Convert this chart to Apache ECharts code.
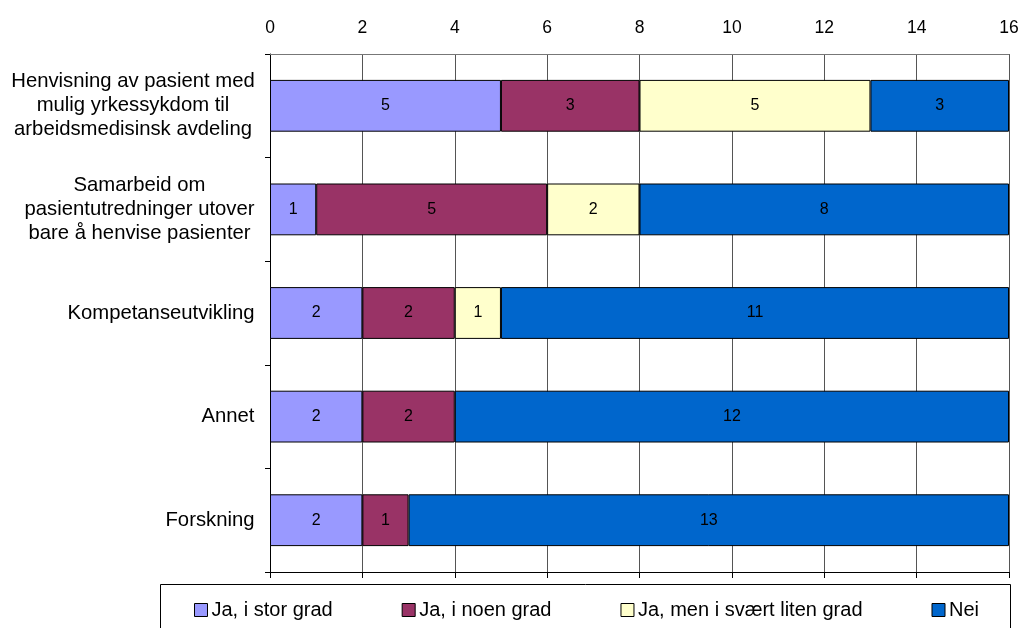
<!DOCTYPE html>
<html>
<head>
<meta charset="utf-8">
<title>Samarbeid med arbeidsmedisinsk avdeling</title>
<script src="https://cdn.jsdelivr.net/npm/echarts@6/dist/echarts.min.js"></script>
<style>
  html, body { margin: 0; padding: 0; background: #ffffff; }
  #chart { width: 1025px; height: 628px; }
</style>
</head>
<body>
<div id="chart"></div>
<script>
// Categories (top to bottom) and answers per category
const categories = [
  'Henvisning av pasient med\nmulig yrkessykdom til\narbeidsmedisinsk avdeling',
  'Samarbeid om\npasientutredninger utover\nbare å henvise pasienter',
  'Kompetanseutvikling',
  'Annet',
  'Forskning'
];
const seriesNames = ['Ja, i stor grad', 'Ja, i noen grad', 'Ja, men i svært liten grad', 'Nei'];
const jaStorGrad   = [5, 1, 2, 2, 2];
const jaNoenGrad   = [3, 5, 2, 2, 1];
const jaLitenGrad  = [5, 2, 1, 0, 0];
const nei          = [3, 8, 11, 12, 13];
const xTicks = [0, 2, 4, 6, 8, 10, 12, 14, 16];

const colors = ['#9999FF', '#993366', '#FFFFCC', '#0066CC'];
const FONT = '"Liberation Sans", Arial, sans-serif';
const CAT_FONT_SIZE = 20.3;

// Measure the widest line of each category so every line can be centred in its block
const ctx = document.createElement('canvas').getContext('2d');
ctx.font = CAT_FONT_SIZE + 'px ' + FONT;
const rich = {};
categories.forEach((c, i) => {
  const w = Math.max(...c.split('\n').map(l => ctx.measureText(l).width));
  rich['c' + i] = {
    width: Math.ceil(w), align: 'center', fontSize: CAT_FONT_SIZE,
    lineHeight: 24, color: '#000', fontFamily: FONT
  };
});

const chart = echarts.init(document.getElementById('chart'), null, { renderer: 'canvas' });

const allValues = [jaStorGrad, jaNoenGrad, jaLitenGrad, nei];
const series = seriesNames.map((name, k) => ({
  name: name,
  type: 'bar',
  stack: 'total',
  xAxisIndex: 0,
  barWidth: '50%',
  itemStyle: { color: colors[k], borderColor: '#000', borderWidth: 1 },
  label: {
    show: true,
    position: 'inside',
    color: '#000',
    fontSize: 16,
    fontFamily: FONT,
    formatter: p => (p.value ? String(p.value) : '')
  },
  data: allValues[k].map(v => (v === 0 ? '-' : v))
}));

chart.setOption({
  backgroundColor: '#ffffff',
  animation: false,
  textStyle: { fontFamily: FONT },
  grid: { left: 270, right: 16, top: 54, bottom: 56, containLabel: false },
  xAxis: [
    {
      type: 'value',
      position: 'top',
      min: xTicks[0],
      max: xTicks[xTicks.length - 1],
      interval: 2,
      axisLine: { show: true, lineStyle: { color: '#777', width: 1 } },
      axisTick: { show: false },
      axisLabel: { color: '#000', fontSize: 17.5, margin: 17, fontFamily: FONT },
      splitLine: { show: true, lineStyle: { color: '#555', width: 1 } }
    },
    {
      type: 'value',
      position: 'bottom',
      min: xTicks[0],
      max: xTicks[xTicks.length - 1],
      interval: 2,
      axisLine: { show: true, lineStyle: { color: '#000', width: 1 } },
      axisTick: { show: true, inside: false, length: 6, lineStyle: { color: '#000' } },
      axisLabel: { show: false },
      splitLine: { show: false }
    }
  ],
  yAxis: {
    type: 'category',
    inverse: true,
    data: categories,
    axisLine: { show: true, lineStyle: { color: '#000', width: 1 } },
    axisTick: { show: true, inside: false, length: 5, lineStyle: { color: '#000' } },
    axisLabel: {
      margin: 15,
      align: 'right',
      formatter: (val, idx) => val.split('\n').map(l => '{c' + idx + '|' + l + '}').join('\n'),
      rich: rich
    },
    splitLine: { show: false }
  },
  legend: {
    data: seriesNames,
    left: 194,
    top: 600,
    itemGap: 69,
    itemWidth: 13,
    itemHeight: 13,
    icon: 'rect',
    padding: 0,
    itemStyle: { borderColor: '#000', borderWidth: 1 },
    textStyle: { color: '#000', fontSize: 20, fontFamily: FONT, padding: [0, 0, 0, -1] }
  },
  graphic: [
    {
      type: 'rect',
      silent: true,
      z: -1,
      shape: { x: 160.5, y: 584.5, width: 850, height: 60 },
      style: { fill: '#ffffff', stroke: '#000', lineWidth: 1 }
    }
  ],
  series: series
});
</script>
</body>
</html>
